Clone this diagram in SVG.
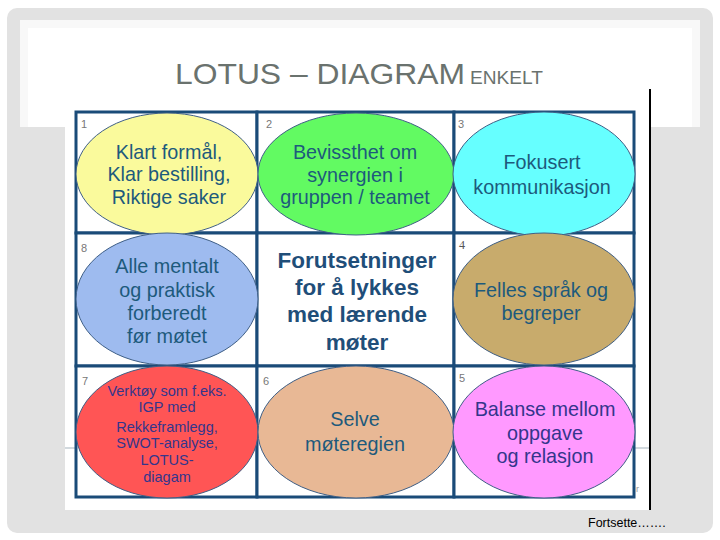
<svg xmlns="http://www.w3.org/2000/svg" width="720" height="540" viewBox="0 0 720 540">
<style>
.cell{fill:#ffffff;stroke:#1a4b78;stroke-width:3}
.ell{stroke:#3f5f86;stroke-width:1}
.t{font-family:"Liberation Sans",Arial,sans-serif;font-size:19.8px;fill:#1d5a7c;text-anchor:middle}
.t2{fill:#34358c}
.sm{font-size:14.5px}
.num{font-family:"Liberation Sans",Arial,sans-serif;font-size:11px;fill:#777}
.ctr{font-family:"Liberation Sans",Arial,sans-serif;font-size:22.5px;font-weight:bold;fill:#1f4e79;text-anchor:middle}
.ttl{font-family:"Liberation Sans",Arial,sans-serif;fill:#6a726e}
</style>
<rect x="0" y="0" width="720" height="540" fill="#ffffff"/>
<rect x="7" y="8" width="706" height="525" rx="10" fill="#e2e2e2"/>
<rect x="20" y="20" width="680" height="107" fill="#f8f8f8"/>
<rect x="28" y="28" width="664" height="99" fill="#ffffff"/>
<rect x="65" y="88" width="585" height="422" fill="#ffffff"/>
<line x1="65" y1="448" x2="650" y2="448" stroke="#c3ccd3" stroke-width="1.5"/>
<line x1="650" y1="89" x2="650" y2="510" stroke="#000" stroke-width="2"/>
<text class="ttl" x="175" y="84" font-size="30" textLength="290" lengthAdjust="spacingAndGlyphs">LOTUS – DIAGRAM</text>
<text class="ttl" x="470" y="84" font-size="18.5" textLength="73" lengthAdjust="spacingAndGlyphs">ENKELT</text>
<g id="grid">
<rect class="cell" x="76" y="112" width="181" height="121"/>
<rect class="cell" x="257" y="112" width="197" height="121"/>
<rect class="cell" x="454" y="112" width="180" height="121"/>
<rect class="cell" x="76" y="233" width="181" height="133"/>
<rect class="cell" x="257" y="233" width="197" height="133"/>
<rect class="cell" x="454" y="233" width="180" height="133"/>
<rect class="cell" x="76" y="366" width="181" height="131"/>
<rect class="cell" x="257" y="366" width="197" height="131"/>
<rect class="cell" x="454" y="366" width="180" height="131"/>
</g>
<g id="n1">
<ellipse class="ell" cx="167" cy="174" rx="91" ry="61" fill="#fafa9c"/>
<text class="num" x="81" y="128">1</text>
<text class="t" x="169" y="159">Klart formål,</text>
<text class="t" x="169" y="181">Klar bestilling,</text>
<text class="t" x="169" y="204">Riktige saker</text>
</g>
<g id="n2">
<ellipse class="ell" cx="356" cy="174" rx="98" ry="61" fill="#62fa62"/>
<text class="num" x="266" y="128">2</text>
<text class="t" x="355" y="159">Bevissthet om</text>
<text class="t" x="355" y="182">synergien i</text>
<text class="t" x="355" y="204">gruppen / teamet</text>
</g>
<g id="n3">
<ellipse class="ell" cx="544" cy="174" rx="91" ry="62" fill="#66ffff"/>
<text class="num" x="458" y="128">3</text>
<text class="t" x="542" y="169">Fokusert</text>
<text class="t" x="542" y="194">kommunikasjon</text>
</g>
<g id="n8">
<ellipse class="ell" cx="167" cy="299" rx="91" ry="66" fill="#9ebbef"/>
<text class="num" x="81" y="252">8</text>
<text class="t" x="167" y="273">Alle mentalt</text>
<text class="t" x="167" y="297">og praktisk</text>
<text class="t" x="167" y="320">forberedt</text>
<text class="t" x="167" y="343">før møtet</text>
</g>
<g id="center">
<text class="ctr" x="357" y="268">Forutsetninger</text>
<text class="ctr" x="357" y="295">for å lykkes</text>
<text class="ctr" x="357" y="322">med lærende</text>
<text class="ctr" x="357" y="350">møter</text>
</g>
<g id="n4">
<ellipse class="ell" cx="544" cy="299" rx="91" ry="66" fill="#c8ab6c"/>
<text x="459" y="249" font-family="'Liberation Serif',serif" font-size="12" fill="#555">4</text>
<text class="t" x="541" y="297">Felles språk og</text>
<text class="t" x="541" y="320">begreper</text>
</g>
<g id="n7">
<ellipse class="ell" cx="167" cy="432" rx="91" ry="66" fill="#ff5555"/>
<text class="num" x="82" y="385">7</text>
<text class="t t2 sm" x="167" y="396">Verktøy som f.eks.</text>
<text class="t t2 sm" x="167" y="412">IGP med</text>
<text class="t t2 sm" x="167" y="432">Rekkeframlegg,</text>
<text class="t t2 sm" x="167" y="448">SWOT-analyse,</text>
<text class="t t2 sm" x="167" y="465">LOTUS-</text>
<text class="t t2 sm" x="167" y="482">diagam</text>
</g>
<g id="n6">
<ellipse class="ell" cx="356" cy="432" rx="98" ry="66" fill="#e8b895"/>
<text class="num" x="263" y="385">6</text>
<text class="t" x="355" y="426">Selve</text>
<text class="t" x="355" y="451">møteregien</text>
</g>
<g id="n5">
<ellipse class="ell" cx="544" cy="432" rx="91" ry="66" fill="#ff99ff"/>
<text class="num" x="459" y="382">5</text>
<text class="t t2" x="545" y="416">Balanse mellom</text>
<text class="t t2" x="545" y="440">oppgave</text>
<text class="t t2" x="545" y="463">og relasjon</text>
</g>
<text x="636" y="492" font-family="'Liberation Sans',Arial,sans-serif" font-size="9" fill="#999">r</text>
<text x="588" y="527" font-family="'Liberation Sans',Arial,sans-serif" font-size="12.5" fill="#000">Fortsette…….</text>
</svg>
